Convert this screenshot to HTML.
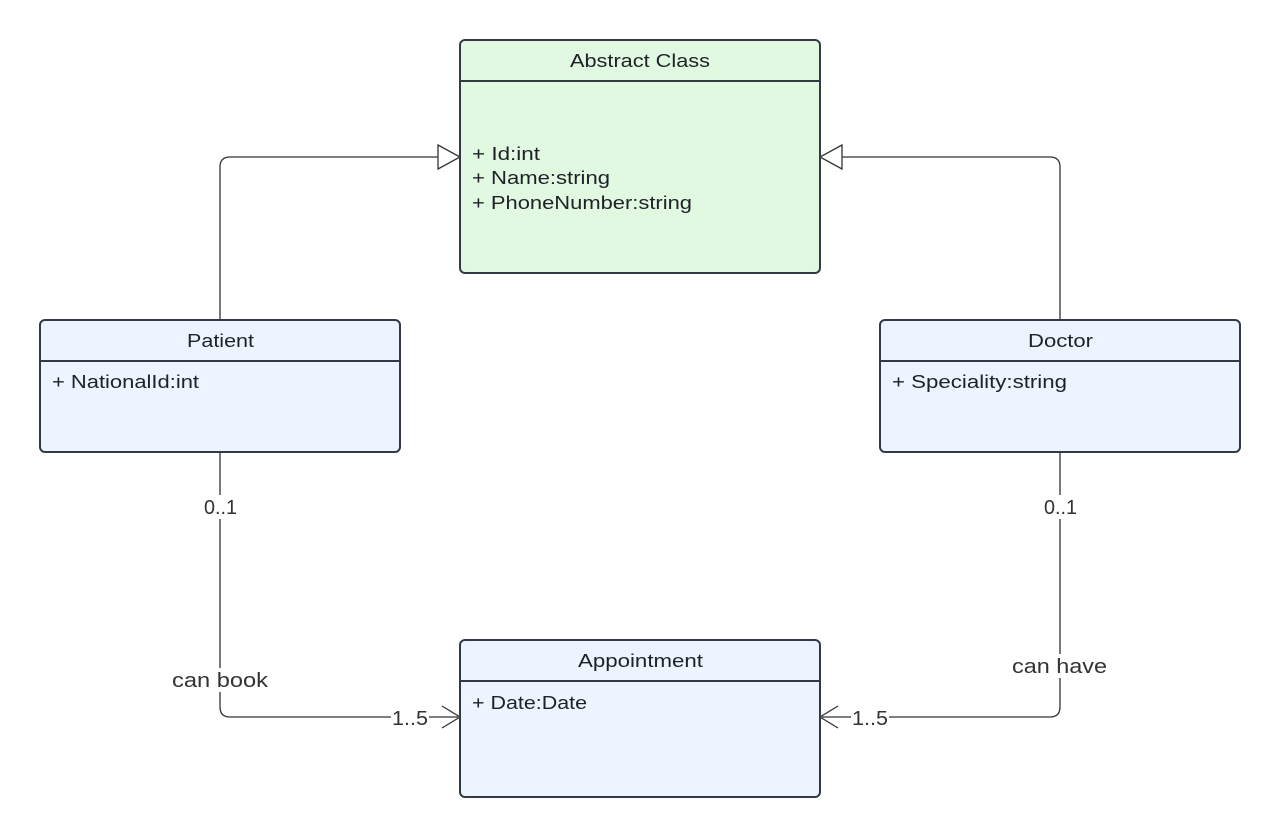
<!DOCTYPE html>
<html><head><meta charset="utf-8"><style>
html,body{margin:0;padding:0;background:#fff;}
svg{display:block;}
text{font-family:"Liberation Sans",sans-serif;font-size:18px;fill:#1e2228;}
.l{fill:#333;font-size:20px;}
</style></head><body>
<svg width="1280" height="837" viewBox="0 0 1280 837">
<g fill="none" stroke="#333" stroke-width="1.3">
<path d="M220 320 V167 Q220 157 230 157 H438"/>
<path d="M1060 320 V167 Q1060 157 1050 157 H842"/>
<path d="M220 452 V707 Q220 717 230 717 H458"/>
<path d="M1060 452 V707 Q1060 717 1050 717 H822"/>
<path d="M438 145 L460 157 L438 169 Z" fill="#fff"/>
<path d="M842 145 L820 157 L842 169 Z" fill="#fff"/>
<path d="M442 706 L460 717 L442 728"/>
<path d="M838 706 L820 717 L838 728"/>
</g>
<g stroke="#343a45" stroke-width="2">
<rect x="460" y="40" width="360" height="233" rx="5" fill="#e1f8e1"/>
<line x1="460" y1="81" x2="820" y2="81"/>
<rect x="40" y="320" width="360" height="132" rx="5" fill="#ecf4ff"/>
<line x1="40" y1="361" x2="400" y2="361"/>
<rect x="880" y="320" width="360" height="132" rx="5" fill="#ecf4ff"/>
<line x1="880" y1="361" x2="1240" y2="361"/>
<rect x="460" y="640" width="360" height="157" rx="5" fill="#ecf4ff"/>
<line x1="460" y1="681" x2="820" y2="681"/>
</g>
<text x="570" y="67" textLength="140" lengthAdjust="spacingAndGlyphs">Abstract Class</text>
<text x="472" y="160" textLength="68" lengthAdjust="spacingAndGlyphs">+ Id:int</text>
<text x="472" y="184" textLength="138" lengthAdjust="spacingAndGlyphs">+ Name:string</text>
<text x="472" y="209" textLength="220" lengthAdjust="spacingAndGlyphs">+ PhoneNumber:string</text>
<text x="187" y="347" textLength="67" lengthAdjust="spacingAndGlyphs">Patient</text>
<text x="52" y="388" textLength="147" lengthAdjust="spacingAndGlyphs">+ NationalId:int</text>
<text x="1028" y="347" textLength="65" lengthAdjust="spacingAndGlyphs">Doctor</text>
<text x="892" y="388" textLength="175" lengthAdjust="spacingAndGlyphs">+ Speciality:string</text>
<text x="578" y="667" textLength="125" lengthAdjust="spacingAndGlyphs">Appointment</text>
<text x="472" y="709" textLength="115" lengthAdjust="spacingAndGlyphs">+ Date:Date</text>
<rect x="200" y="495" width="40" height="24" fill="#fff"/>
<text class="l" x="204" y="514" textLength="33" lengthAdjust="spacingAndGlyphs">0..1</text>
<rect x="1040" y="495" width="40" height="24" fill="#fff"/>
<text class="l" x="1044" y="514" textLength="33" lengthAdjust="spacingAndGlyphs">0..1</text>
<rect x="170" y="668" width="100" height="24" fill="#fff"/>
<text class="l" x="172" y="687" textLength="96" lengthAdjust="spacingAndGlyphs">can book</text>
<rect x="1010" y="654" width="100" height="24" fill="#fff"/>
<text class="l" x="1012" y="673" textLength="95" lengthAdjust="spacingAndGlyphs">can have</text>
<rect x="391" y="707" width="38" height="22" fill="#fff"/>
<text class="l" x="392" y="725" textLength="36" lengthAdjust="spacingAndGlyphs">1..5</text>
<rect x="851" y="707" width="38" height="22" fill="#fff"/>
<text class="l" x="852" y="725" textLength="36" lengthAdjust="spacingAndGlyphs">1..5</text>
</svg>
</body></html>
